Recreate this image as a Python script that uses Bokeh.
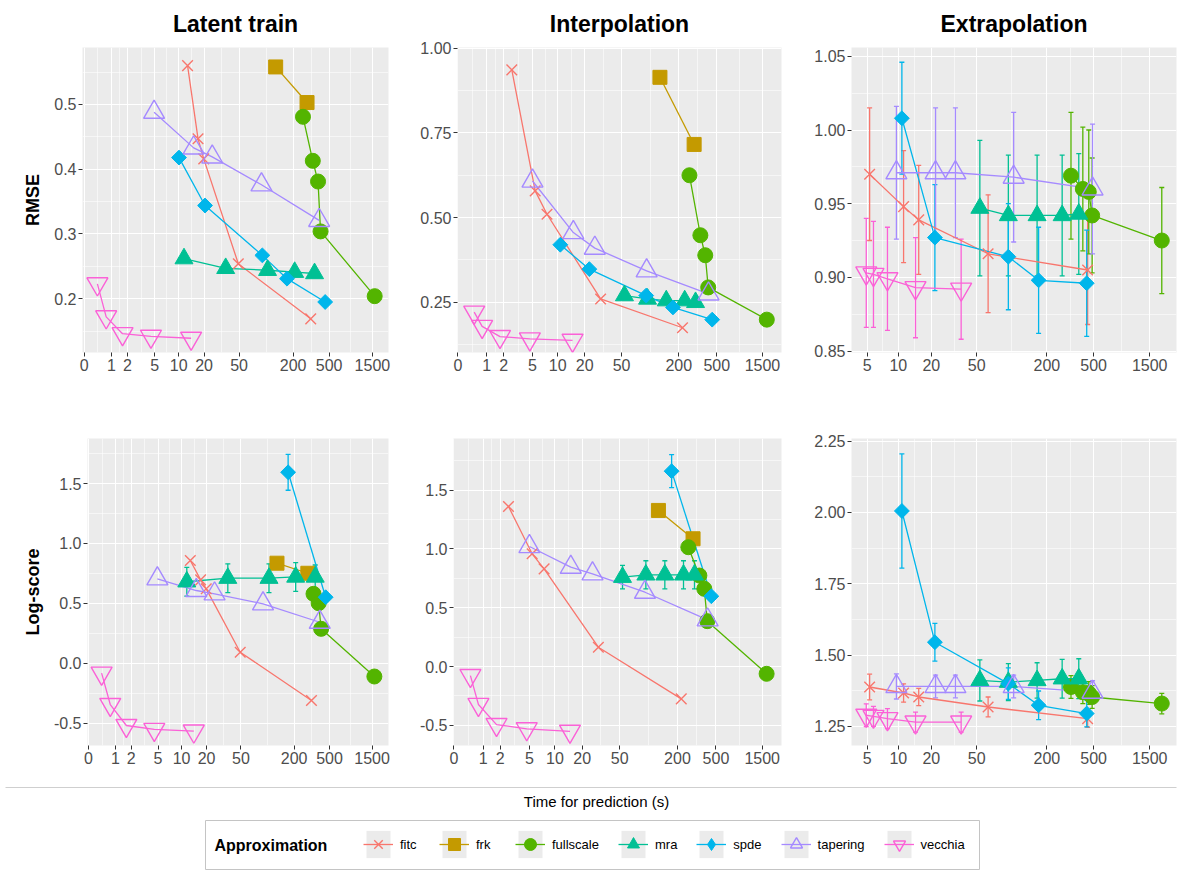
import numpy as np
from bokeh.plotting import figure
from bokeh.layouts import column, row
from bokeh.models import (ColumnDataSource, Range1d, FixedTicker, CustomJSTickFormatter,
                          PrintfTickFormatter, Whisker, TeeHead, Legend, LegendItem, Label)
from bokeh.embed import file_html
from bokeh.resources import INLINE

nan = float("nan")

methods = ["fitc", "frk", "fullscale", "mra", "spde", "tapering", "vecchia"]
method_colors = ["#F8766D", "#C49A00", "#53B400", "#00C094", "#00B6EB", "#A58AFF", "#FB61D7"]
x_breaks = [0, 1, 2, 5, 10, 20, 50, 200, 500, 1500]

# ---------------- Latent train ----------------
latent_time = {
    "fitc": [12.8, 17.0, 19.8, 49.0, 313.0],
    "frk": [128.0, 285.0],
    "fullscale": [257.0, 330.0, 377.0, 402.0, 1590.0],
    "mra": [11.6, 35.3, 104.0, 208.0, 345.0],
    "spde": [10.1, 20.5, 91.0, 171.0, 452.0],
    "tapering": [4.9, 15.1, 24.8, 89.0, 388.0],
    "vecchia": [0.40, 0.75, 1.65, 4.45, 14.1],
}
latent_rmse = {
    "fitc": [0.560, 0.447, 0.416, 0.254, 0.169],
    "frk": [0.558, 0.503],
    "fullscale": [0.481, 0.413, 0.381, 0.304, 0.204],
    "mra": [0.262, 0.247, 0.244, 0.241, 0.239],
    "spde": [0.418, 0.344, 0.267, 0.231, 0.195],
    "tapering": [0.488, 0.433, 0.419, 0.376, 0.321],
    "vecchia": [0.223, 0.172, 0.146, 0.142, 0.139],
}
latent_logscore = {
    "fitc": [0.857, 0.696, 0.621, 0.092, -0.311],
    "frk": [0.835, 0.751],
    "fullscale": [nan, 0.579, 0.501, 0.287, -0.111],
    "mra": [0.68, 0.71, 0.71, 0.72, 0.72],
    "spde": [nan, nan, nan, 1.594, 0.551],
    "tapering": [0.705, 0.607, 0.579, 0.496, 0.342],
    "vecchia": [-0.083, -0.345, -0.520, -0.553, -0.567],
}
latent_logscore_err = {
    "mra": [0.12, 0.12, 0.12, 0.12, 0.10],
    "spde": [0.0, 0.0, 0.0, 0.15, 0.03],
}

# ---------------- Interpolation ----------------
interp_time = {
    "fitc": [2.65, 5.4, 7.5, 29.8, 219.0],
    "frk": [127.0, 290.0],
    "fullscale": [259.0, 337.0, 379.0, 407.0, 1665.0],
    "mra": [53.6, 94.0, 148.0, 231.0, 300.0],
    "spde": [10.7, 22.5, 91.0, 174.0, 448.0],
    "tapering": [5.0, 15.0, 25.8, 92.0, 410.0],
    "vecchia": [0.48, 0.79, 1.75, 4.63, 14.7],
}
interp_rmse = {
    "fitc": [0.936, 0.579, 0.510, 0.260, 0.175],
    "frk": [0.914, 0.716],
    "fullscale": [0.625, 0.448, 0.389, 0.294, 0.199],
    "mra": [0.270, 0.260, 0.255, 0.255, 0.250],
    "spde": [0.420, 0.348, 0.270, 0.235, 0.199],
    "tapering": [0.608, 0.456, 0.410, 0.343, 0.275],
    "vecchia": [0.221, 0.179, 0.149, 0.142, 0.138],
}
interp_logscore = {
    "fitc": [1.362, 0.959, 0.831, 0.164, -0.275],
    "frk": [1.328, 1.087],
    "fullscale": [1.015, 0.774, 0.661, 0.386, -0.062],
    "mra": [0.76, 0.78, 0.78, 0.78, 0.78],
    "spde": [nan, nan, nan, 1.662, 0.598],
    "tapering": [1.021, 0.845, 0.789, 0.632, 0.397],
    "vecchia": [-0.077, -0.323, -0.494, -0.530, -0.551],
}
interp_logscore_err = {
    "mra": [0.10, 0.12, 0.12, 0.12, 0.12],
    "spde": [0.0, 0.0, 0.0, 0.14, 0.03],
}

# ---------------- Extrapolation ----------------
extrap_time = {
    "fitc": [5.28, 11.2, 15.4, 62.7, 445.0],
    "fullscale": [321.0, 405.0, 455.0, 486.0, 1900.0],
    "mra": [53.2, 93.6, 165.0, 270.0, 374.0],
    "spde": [10.8, 21.5, 93.6, 170.0, 437.0],
    "tapering": [9.6, 21.8, 32.6, 104.0, 490.0],
    "vecchia": [4.88, 5.77, 7.9, 14.4, 36.6],
}
extrap_rmse = {
    "fitc": [0.970, 0.948, 0.939, 0.916, 0.905],
    "fullscale": [0.969, 0.960, 0.958, 0.942, 0.925],
    "mra": [0.947, 0.942, 0.942, 0.942, 0.943],
    "spde": [1.008, 0.927, 0.914, 0.898, 0.896],
    "tapering": [0.971, 0.971, 0.971, 0.968, 0.960],
    "vecchia": [0.903, 0.902, 0.899, 0.893, 0.892],
}
extrap_rmse_err = {
    "fitc": [0.045, 0.038, 0.037, 0.040, 0.037],
    "fullscale": [0.043, 0.042, 0.042, 0.039, 0.036],
    "mra": [0.046, 0.041, 0.041, 0.041, 0.041],
    "spde": [0.038, 0.036, 0.036, 0.036, 0.036],
    "tapering": [0.045, 0.044, 0.044, 0.044, 0.044],
    "vecchia": [0.037, 0.036, 0.035, 0.034, 0.034],
}
extrap_logscore = {
    "fitc": [1.388, 1.367, 1.353, 1.318, 1.277],
    "fullscale": [1.388, 1.370, 1.367, 1.353, 1.330],
    "mra": [1.411, 1.405, 1.411, 1.417, 1.417],
    "spde": [2.005, 1.545, 1.400, 1.324, 1.295],
    "tapering": [1.390, 1.390, 1.390, 1.390, 1.370],
    "vecchia": [1.289, 1.285, 1.277, 1.265, 1.265],
}
extrap_logscore_err = {
    "fitc": [0.045, 0.032, 0.030, 0.035, 0.030],
    "fullscale": [0.040, 0.040, 0.040, 0.040, 0.036],
    "mra": [0.072, 0.065, 0.062, 0.068, 0.070],
    "spde": [0.200, 0.066, 0.055, 0.050, 0.047],
    "tapering": [0.044, 0.040, 0.040, 0.040, 0.040],
    "vecchia": [0.040, 0.035, 0.035, 0.035, 0.035],
}

# ---------------- styling ----------------
FONT = "Liberation Sans"
TICK_FONT_SIZE = "16px"
marker_style = {
    "fitc": dict(marker="x", size=15, filled=False, angle=0.0),
    "frk": dict(marker="square", size=14, filled=True, angle=0.0),
    "fullscale": dict(marker="circle", size=15, filled=True, angle=0.0),
    "mra": dict(marker="triangle", size=18, filled=True, angle=0.0),
    "spde": dict(marker="square", size=10.5, filled=True, angle=np.pi / 4),
    "tapering": dict(marker="triangle", size=21, filled=False, angle=0.0),
    "vecchia": dict(marker="inverted_triangle", size=21, filled=False, angle=0.0),
}
legend_marker = {"spde": "diamond"}


def tr(t):
    return np.log10(np.asarray(t, dtype=float) + 1.0)


xt = [float(v) for v in tr(x_breaks)]
xminor = [(a + b) / 2 for a, b in zip(xt[:-1], xt[1:])]
x_formatter_code = "return String(Math.round(Math.pow(10, tick) - 1));"


def make_panel(times, values, errors, xr, yr, yticks, yfmt, geom, title=None, ylabel=None):
    left, fw, right, top, fh, bottom = geom
    kw = dict(width=left + fw + right, height=top + fh + bottom,
              x_range=Range1d(*xr), y_range=Range1d(*yr),
              min_border_left=left, min_border_right=right,
              min_border_top=top, min_border_bottom=bottom,
              output_backend="svg", toolbar_location=None)
    if title:
        kw["title"] = title
    p = figure(**kw)
    if title:
        p.title.align = "center"
        p.title.vertical_align = "top"
        p.title.standoff = 18
        p.title.text_font = FONT
        p.title.text_font_size = "23px"
        p.title.text_font_style = "bold"
        p.title.text_color = "black"
    p.background_fill_color = "#EBEBEB"
    p.border_fill_color = "white"
    p.outline_line_color = None

    xtick = FixedTicker(ticks=xt, minor_ticks=xminor)
    ystep = yticks[1] - yticks[0]
    ym = [yticks[0] - ystep / 2] + [v + ystep / 2 for v in yticks]
    ytick = FixedTicker(ticks=list(yticks), minor_ticks=ym)
    p.xaxis.ticker = xtick
    p.yaxis.ticker = ytick
    p.xgrid.ticker = xtick
    p.ygrid.ticker = ytick
    p.xaxis.formatter = CustomJSTickFormatter(code=x_formatter_code)
    p.yaxis.formatter = PrintfTickFormatter(format=yfmt)
    for g in (p.xgrid, p.ygrid):
        g.grid_line_color = "white"
        g.grid_line_width = 1.1
        g.minor_grid_line_color = "white"
        g.minor_grid_line_width = 0.55
    for ax in (p.xaxis, p.yaxis):
        ax.axis_line_color = None
        ax.major_tick_line_color = "#333333"
        ax.major_tick_line_width = 1
        ax.major_tick_out = 4
        ax.major_tick_in = 0
        ax.minor_tick_line_color = None
        ax.major_label_text_color = "#4D4D4D"
        ax.major_label_text_font = FONT
        ax.major_label_text_font_size = TICK_FONT_SIZE
        ax.major_label_standoff = 2
    if ylabel:
        p.yaxis.axis_label = ylabel
        p.yaxis.axis_label_text_font = FONT
        p.yaxis.axis_label_text_font_size = "18px"
        p.yaxis.axis_label_text_font_style = "bold"
        p.yaxis.axis_label_text_color = "black"
        p.yaxis.axis_label_standoff = 8

    present = [m for m in methods if m in times]
    # lines
    for m in present:
        c = method_colors[methods.index(m)]
        u = tr(times[m])
        v = np.asarray(values[m], dtype=float)
        order = np.argsort(u)
        p.line(u[order], v[order], line_color=c, line_width=1.3)
    # points
    for m in present:
        c = method_colors[methods.index(m)]
        st = marker_style[m]
        u = tr(times[m])
        v = np.asarray(values[m], dtype=float)
        ok = ~np.isnan(v)
        src = ColumnDataSource(dict(x=u[ok], y=v[ok]))
        p.scatter("x", "y", source=src, marker=st["marker"], size=st["size"], angle=st["angle"],
                  line_color=c, fill_color=c if st["filled"] else None,
                  line_width=1.0 if st["filled"] else 1.4)
    # error bars
    if errors:
        for m in present:
            if m not in errors:
                continue
            c = method_colors[methods.index(m)]
            u = tr(times[m])
            v = np.asarray(values[m], dtype=float)
            e = np.asarray(errors[m], dtype=float)
            ok = (~np.isnan(v)) & (e > 0)
            src = ColumnDataSource(dict(base=u[ok], upper=(v + e)[ok], lower=(v - e)[ok]))
            w = Whisker(source=src, base="base", upper="upper", lower="lower", dimension="height",
                        line_color=c, line_width=1.3,
                        upper_head=TeeHead(size=5, line_color=c, line_width=1.3),
                        lower_head=TeeHead(size=5, line_color=c, line_width=1.3))
            p.add_layout(w)
    return p


# geometry: (left border, frame width, right border, top border, frame height, bottom border)
g_tl = (82, 306, 5, 47, 305, 43)
g_tm = (64, 324, 19, 47, 305, 43)
g_tr = (51, 325, 5, 47, 305, 43)
g_bl = (87, 301, 5, 43, 307, 40)
g_bm = (60, 328, 19, 43, 307, 40)
g_br = (51, 325, 5, 43, 307, 40)

tl = make_panel(latent_time, latent_rmse, None, (-0.018, 3.354), (0.117, 0.588),
                [0.2, 0.3, 0.4, 0.5], "%.1f", g_tl, title="Latent train", ylabel="RMSE")
tm = make_panel(interp_time, interp_rmse, None, (-0.004, 3.375), (0.102, 1.002),
                [0.25, 0.50, 0.75, 1.00], "%.2f", g_tm, title="Interpolation")
trp = make_panel(extrap_time, extrap_rmse, extrap_rmse_err, (0.644, 3.404), (0.849, 1.056),
                 [0.85, 0.90, 0.95, 1.00, 1.05], "%.2f", g_tr, title="Extrapolation")
bl = make_panel(latent_time, latent_logscore, latent_logscore_err, (-0.012, 3.36), (-0.687, 1.876),
                [-0.5, 0.0, 0.5, 1.0, 1.5], "%.1f", g_bl, ylabel="Log-score")
bm = make_panel(interp_time, interp_logscore, interp_logscore_err, (-0.004, 3.375), (-0.672, 1.940),
                [-0.5, 0.0, 0.5, 1.0, 1.5], "%.1f", g_bm)
br = make_panel(extrap_time, extrap_logscore, extrap_logscore_err, (0.644, 3.404), (1.183, 2.259),
                [1.25, 1.50, 1.75, 2.00, 2.25], "%.2f", g_br)

# ---------------- bottom: axis title + legend ----------------
LW, LH = 1181, 87
leg = figure(width=LW, height=LH, x_range=Range1d(0, LW), y_range=Range1d(0, LH),
             min_border=0, output_backend="svg", toolbar_location=None,
             x_axis_type=None, y_axis_type=None)
leg.outline_line_color = None
leg.background_fill_color = "white"
leg.border_fill_color = "white"
# separator line and legend frame (decorations)
leg.segment(x0=[5], y0=[LH - 2], x1=[1176], y1=[LH - 2], line_color="#CFCFCF", line_width=1)
leg.quad(left=[205], right=[979], bottom=[3], top=[52], fill_color=None,
         line_color="#C4C4C4", line_width=1)
leg.add_layout(Label(x=596, y=LH - 16, text="Time for prediction (s)", text_align="center",
                     text_baseline="middle", text_font=FONT, text_font_size="15px",
                     text_color="black"))
leg.add_layout(Label(x=214, y=27.5, text="Approximation", text_align="left",
                     text_baseline="middle", text_font=FONT, text_font_size="16px",
                     text_font_style="bold", text_color="black"))

items = []
for m, c in zip(methods, method_colors):
    st = marker_style[m]
    bg = leg.quad(left=[-100], right=[-90], bottom=[-100], top=[-90],
                  fill_color="#EBEBEB", line_color=None)
    ln = leg.line([-100, -90], [-100, -100], line_color=c, line_width=1.3)
    mk = leg.scatter([-100], [-100], marker=legend_marker.get(m, st["marker"]), size=st["size"],
                     line_color=c, fill_color=c if st["filled"] else None,
                     line_width=1.0 if st["filled"] else 1.4)
    items.append(LegendItem(label=m, renderers=[bg, ln, mk]))

legend = Legend(items=items, orientation="horizontal", location=(363, 11),
                glyph_width=30, glyph_height=34, label_height=34,
                label_standoff=7, spacing=19, padding=0, margin=0,
                border_line_color=None, background_fill_alpha=0.0,
                label_text_font=FONT, label_text_font_size="13px", label_text_color="black",
                label_text_baseline="middle")
leg.add_layout(legend)

layout = column(row(tl, tm, trp), row(bl, bm, br), leg)
open("out.html", "w").write(file_html(layout, INLINE))
